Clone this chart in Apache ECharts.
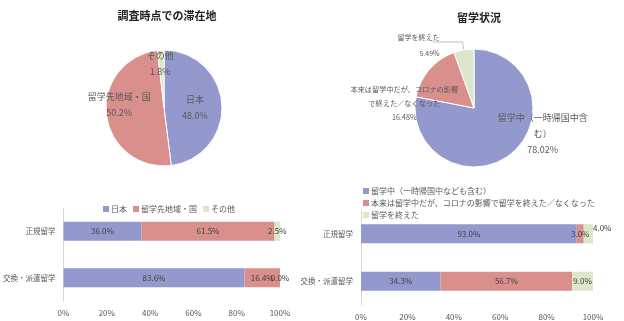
<!DOCTYPE html>
<html><head><meta charset="utf-8">
<script src="https://cdn.jsdelivr.net/npm/echarts@6/dist/echarts.min.js"></script>
<style>html,body{margin:0;padding:0;background:#fff}#c{width:624px;height:321px}</style>
</head><body><div id="c"></div>
<script>
const stayNames = ['日本', '留学先地域・国', 'その他'];
const stayPieValues = [48.0, 50.2, 1.8];
const statusPieNames = ['留学中（一時帰国中含む）', '本来は留学中だが、コロナの影響で終えた／なくなった', '留学を終えた'];
const statusPieValues = [78.02, 16.48, 5.49];
const barCategories = ['正規留学', '交換・派遣留学'];
const stayJapan = [36.0, 83.6];
const stayAbroad = [61.5, 16.4];
const stayOther = [2.5, 0.0];
const statusLegendNames = ['留学中（一時帰国中なども含む）', '本来は留学中だが、コロナの影響で留学を終えた／なくなった', '留学を終えた'];
const statusOngoing = [93.0, 34.3];
const statusCovidEnded = [3.0, 56.7];
const statusFinished = [4.0, 9.0];
const xTickValues = [0, 20, 40, 60, 80, 100];

const COLORS = ['#9399cc', '#d9908d', '#dde6c8'];
const FONT = '"Noto Sans CJK JP", "Noto Sans", sans-serif';
const TXT = '#595959';

const chart = echarts.init(document.getElementById('c'), null, {renderer: 'canvas'});

function pieData(names, values) {
  return values.map((v, i) => ({name: names[i], value: v, itemStyle: {color: COLORS[i]}}));
}
function barSeries(name, data, idx, color, stack, extraLabel) {
  return {
    type: 'bar', name: name, data: data.map((v, i) => {
      const d = {value: v};
      if (extraLabel && extraLabel[i]) d.label = extraLabel[i];
      return d;
    }),
    xAxisIndex: idx, yAxisIndex: idx, stack: stack, barWidth: 19,
    itemStyle: {color: color},
    label: {show: true, position: 'inside', color: '#404040', fontSize: 8, fontFamily: FONT,
      formatter: p => p.value.toFixed(1) + '%'}
  };
}
const xAxisCommon = {
  type: 'value', min: xTickValues[0], max: xTickValues[xTickValues.length - 1],
  interval: xTickValues[1] - xTickValues[0],
  splitLine: {show: false}, axisLine: {show: false}, axisTick: {show: false},
  axisLabel: {formatter: '{value}%', fontSize: 8, color: TXT, fontFamily: FONT, margin: 8}
};
const yAxisCommon = {
  type: 'category', data: barCategories, inverse: true,
  axisTick: {show: false}, axisLine: {show: true, lineStyle: {color: '#d9d9d9'}},
  axisLabel: {fontSize: 7.5, color: TXT, fontFamily: FONT, margin: 8}
};

const option = {
  animation: false,
  textStyle: {fontFamily: FONT},
  title: [
    {text: '調査時点での滞在地', left: 162, top: 5, textAlign: 'center',
      textStyle: {fontSize: 11, fontWeight: 'bold', color: '#222', fontFamily: FONT}},
    {text: '留学状況', left: 474, top: 7, textAlign: 'center',
      textStyle: {fontSize: 11, fontWeight: 'bold', color: '#222', fontFamily: FONT}}
  ],
  legend: [
    {data: stayNames, top: 200, left: 98, itemWidth: 6, itemHeight: 6, itemGap: 6,
      icon: 'rect', textStyle: {fontSize: 8, color: TXT, fontFamily: FONT, padding: [0,0,0,-3]}},
    {data: statusLegendNames, orient: 'vertical', left: 358, top: 182, itemWidth: 6, itemHeight: 6,
      itemGap: 4, icon: 'rect', textStyle: {fontSize: 8, color: TXT, fontFamily: FONT, padding: [0,0,0,-3]}}
  ],
  grid: [
    {left: 59, right: 344, top: 208, height: 93},
    {left: 361, right: 31, top: 210, height: 95}
  ],
  xAxis: [Object.assign({gridIndex: 0}, xAxisCommon), Object.assign({gridIndex: 1}, xAxisCommon)],
  yAxis: [Object.assign({gridIndex: 0}, yAxisCommon), Object.assign({gridIndex: 1}, yAxisCommon)],
  series: [
    {
      type: 'pie', center: [164, 108], radius: 58, startAngle: 90, clockwise: true,
      avoidLabelOverlap: false, legendHoverLink: false,
      itemStyle: {borderColor: '#fff', borderWidth: 1},
      data: pieData(stayNames, stayPieValues),
      label: {show: true, position: 'inside', color: TXT, fontSize: 9, lineHeight: 16, fontFamily: FONT,
        formatter: p => p.name + '\n' + p.value.toFixed(1) + '%'},
      labelLine: {show: false},
      labelLayout: p => ({0: {dx: -1, dy: 2}, 1: {dx: -13, dy: -7}, 2: {dx: -2, dy: -12}})[p.dataIndex] || {}
    },
    {
      type: 'pie', center: [474, 108], radius: 59, startAngle: 90, clockwise: true,
      avoidLabelOverlap: false, legendHoverLink: false,
      itemStyle: {borderColor: '#fff', borderWidth: 1},
      data: pieData(statusPieNames, statusPieValues).map((d, i) => {
        if (i === 0) d.label = {position: 'inside', fontSize: 9, lineHeight: 16, width: 94, overflow: 'break'};
        if (i === 1) d.label = {position: 'inside', fontSize: 7.2, lineHeight: 14, width: 112, overflow: 'break'};
        if (i === 2) d.label = {position: 'outside', fontSize: 7, lineHeight: 16, align: 'center'};
        return d;
      }),
      label: {show: true, color: TXT, fontFamily: FONT, align: 'center',
        formatter: p => p.name + '\n' + p.value.toFixed(2) + '%'},
      labelLine: {show: true, length: 8, length2: 30, lineStyle: {color: '#bfbfbf', width: 1}},
      labelLayout: p => ({0: {dx: 48, dy: 1}, 1: {dx: -45, dy: 16}, 2: {dx: 12, dy: 3}})[p.dataIndex] || {}
    },
    barSeries(stayNames[0], stayJapan, 0, COLORS[0], 'a'),
    barSeries(stayNames[1], stayAbroad, 0, COLORS[1], 'a'),
    barSeries(stayNames[2], stayOther, 0, COLORS[2], 'a'),
    barSeries(statusLegendNames[0], statusOngoing, 1, COLORS[0], 'b'),
    barSeries(statusLegendNames[1], statusCovidEnded, 1, COLORS[1], 'b'),
    barSeries(statusLegendNames[2], statusFinished, 1, COLORS[2], 'b',
      [{position: 'right', offset: [-2, -6], distance: 2}, null])
  ]
};
chart.setOption(option);
</script>
</body></html>
